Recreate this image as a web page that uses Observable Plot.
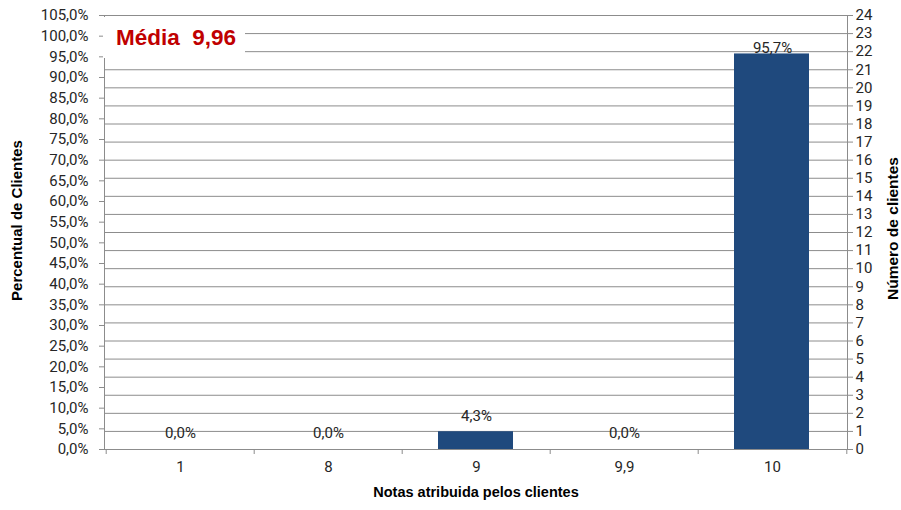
<!DOCTYPE html>
<html>
<head>
<meta charset="utf-8">
<script src="https://cdn.jsdelivr.net/npm/d3@7"></script>
<script src="https://cdn.jsdelivr.net/npm/@observablehq/plot@0.6"></script>
<style>
  html, body { margin: 0; padding: 0; background: #fff; }
  #wrap { position: relative; width: 901px; height: 510px; }
  #badge {
    position: absolute; left: 103px; top: 17px; width: 142px; height: 41px;
    background: #fff; color: #c00000; font-family: "Liberation Sans", Arial, sans-serif;
    font-weight: bold; font-size: 22.5px; line-height: 41px; white-space: pre;
    box-sizing: border-box; padding-left: 13px;
  }
</style>
</head>
<body>
<div id="wrap"><div id="badge">Média  9,96</div></div>
<script>
const categories = ["1", "8", "9", "9,9", "10"];
const percentValues = [0, 0, 4.3, 0, 95.7];
const countValues = [0, 0, 1, 0, 22];
const percentTicks = d3.range(0, 106, 5);
const countTicks = d3.range(0, 25);
const percentMax = 105;
const countMax = 24;

const data = categories.map((c, i) => ({cat: c, pct: percentValues[i], n: countValues[i]}));
const toPct = k => k * percentMax / countMax;
const fmtPct = v => v.toFixed(1).replace(".", ",") + "%";

const W = 901, H = 510, mL = 104, mR = 54, mT = 15, mB = 61;
const bw = (W - mL - mR) / categories.length;
const pxToPct = px => px * percentMax / (H - mT - mB);
const grid = "#8c8c8c";
const ink = "#262626";
const titleFont = "'Liberation Sans', Arial, sans-serif";

const chart = Plot.plot({
  width: W, height: H,
  marginLeft: mL, marginRight: mR, marginTop: mT, marginBottom: mB,
  style: {fontFamily: "Roboto, 'Liberation Sans', sans-serif", fontSize: "15px", color: ink, background: "#fff"},
  x: {type: "band", domain: categories, padding: 0},
  y: {domain: [0, percentMax]},
  marks: [
    Plot.ruleY(countTicks, {y: toPct, stroke: grid, strokeWidth: 1}),
    Plot.frame({stroke: grid}),
    Plot.barY(data, {x: "cat", y: "pct", fill: "#1f497d", insetLeft: 36, insetRight: 37}),
    Plot.text(data.filter(d => d.pct < 50), {x: "cat", y: "pct", text: d => fmtPct(d.pct), dy: -16, fill: ink}),
    Plot.text(data.filter(d => d.pct >= 50), {x: "cat", y: "pct", text: d => fmtPct(d.pct), dy: -6, fill: ink}),
    Plot.axisY(percentTicks, {anchor: "left", tickSize: 5, tickPadding: 11, tickFormat: fmtPct, label: null, stroke: grid, fill: ink}),
    Plot.axisY(countTicks.map(toPct), {anchor: "right", tickSize: 5, tickPadding: 3, tickFormat: d => String(Math.round(d * countMax / percentMax)), label: null, stroke: grid, fill: ink}),
    Plot.axisX({tickSize: 0, tickPadding: 12, label: null, fill: ink}),
    Plot.ruleX(categories, {x: d => d, dx: -bw / 2, y1: 0, y2: -pxToPct(5), stroke: grid}),
    Plot.ruleX(categories.slice(-1), {x: d => d, dx: bw / 2, y1: 0, y2: -pxToPct(5), stroke: grid}),
    Plot.text(["Percentual de Clientes"], {frameAnchor: "left", textAnchor: "middle", dx: -87, dy: -12, rotate: -90, fontWeight: "bold", fontFamily: titleFont, fontSize: 15, fill: "#000"}),
    Plot.text(["Número de clientes"], {frameAnchor: "right", textAnchor: "middle", dx: 46, dy: -4, rotate: -90, fontWeight: "bold", fontFamily: titleFont, fontSize: 15.5, fill: "#000"}),
    Plot.text(["Notas atribuida pelos clientes"], {frameAnchor: "bottom", dy: 47, fontWeight: "bold", fontFamily: titleFont, fontSize: 14.5, fill: "#000"})
  ]
});
document.getElementById("wrap").insertBefore(chart, document.getElementById("badge"));
</script>
</body>
</html>
